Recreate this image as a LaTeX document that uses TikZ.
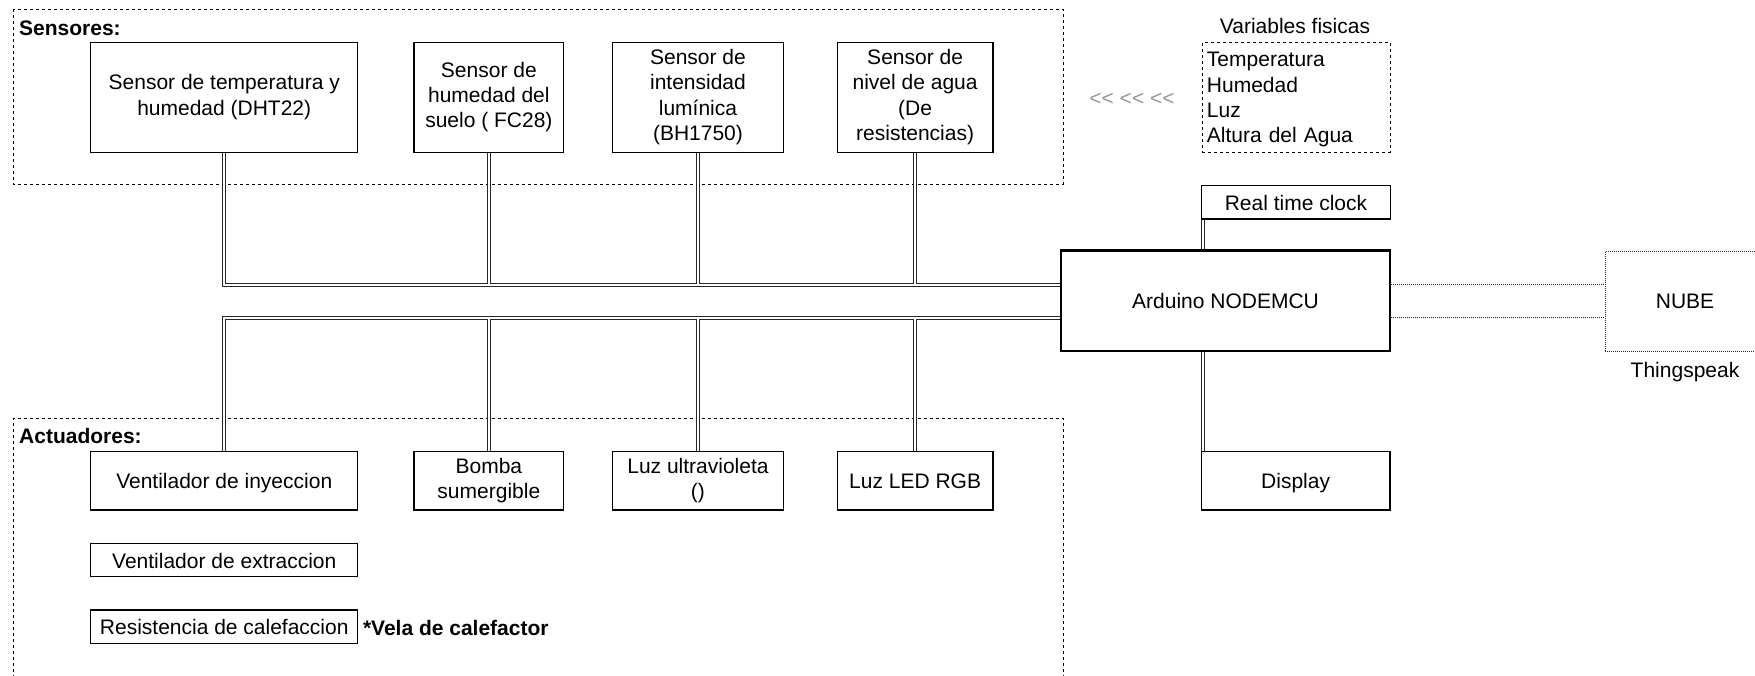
\documentclass[tikz,border=0pt]{standalone}
\usepackage{fontspec}
\setmainfont{Liberation Sans}
\usetikzlibrary{backgrounds}
\definecolor{arrgray}{RGB}{150,150,150}
\newcommand\dioStrut{\rule[-5.35pt]{0pt}{25.2pt}}
\newcommand\boxStrut{\rule[-3.8pt]{0pt}{25.2pt}}
\begin{document}
\begin{tikzpicture}[x=1pt,y=-1pt,
  every node/.style={font=\fontsize{21}{25.2}\selectfont, text=black,
    execute at begin node=\dioStrut, execute at end node=\dioStrut},
  box/.style={draw=black, line width=1.2pt, inner sep=0pt, align=center,
    execute at begin node=\boxStrut, execute at end node=\boxStrut},
  mainbox/.style={draw=black, line width=2.5pt, inner sep=0pt, align=center},
  groupline/.style={draw=black, line width=1pt, dash pattern=on 3pt off 3pt},
  fineline/.style={draw=black!85, line width=1pt, dash pattern=on 1pt off 1pt},
  busouter/.style={draw=black!85, line width=4.2pt},
  businner/.style={draw=white, line width=2pt},
  lbl/.style={inner sep=0pt, anchor=west},
  plain/.style={inner sep=0pt},
]
\useasboundingbox (0,0) rectangle (1755,675);

% sensors
\node[box, minimum width=267.1pt, minimum height=109.6pt] (s1) at (224.25,97.5) {Sensor de temperatura y\\humedad (DHT22)};
\node[box, minimum width=149.7pt, minimum height=109.6pt] (s2) at (488.85,97.5) {Sensor de\\humedad del\\suelo ( FC28)};
\node[box, minimum width=171.5pt, minimum height=109.6pt] (s3) at (697.95,97.5) {Sensor de\\intensidad\\lumínica\\(BH1750)};
\node[box, minimum width=155.8pt, minimum height=109.6pt] (s4) at (915.1,97.5) {Sensor de\\nivel de agua\\(De\\resistencias)};

% actuators
\node[box, minimum width=267.1pt, minimum height=58.3pt] (a1) at (224.25,480.85) {Ventilador de inyeccion};
\node[box, minimum width=149.7pt, minimum height=58.3pt] (a2) at (488.85,480.85) {Bomba\\sumergible};
\node[box, minimum width=171.5pt, minimum height=58.3pt] (a3) at (697.95,480.85) {Luz ultravioleta\\()};
\node[box, minimum width=155.8pt, minimum height=58.3pt] (a4) at (915.1,480.85) {Luz LED RGB};
\node[box, minimum width=267.1pt, minimum height=33.4pt] (a5) at (224.25,560) {Ventilador de extraccion};
\node[box, minimum width=267.1pt, minimum height=33.3pt] (a6) at (224.25,626.65) {Resistencia de calefaccion};
\node[lbl, font=\fontsize{21}{25.2}\selectfont\bfseries] (vela) at (362.8,628.3) {*Vela de calefactor};

% group labels
\node[lbl, font=\fontsize{21}{25.2}\selectfont\bfseries] (sens) at (19,28.3) {Sensores:};
\node[lbl, font=\fontsize{21}{25.2}\selectfont\bfseries] (act) at (19,436.7) {Actuadores:};

% controller and peripherals
\node[mainbox, minimum width=329pt, minimum height=100.3pt] (ard) at (1225.5,300.85) {Arduino NODEMCU};
\node[box, minimum width=188.9pt, minimum height=33.3pt] (rtc) at (1295.95,202.35) {Real time clock};
\node[box, minimum width=188.7pt, minimum height=58.3pt] (disp) at (1295.65,480.85) {Display};

% physical variables
\node[plain] (vtitle) at (1295,26.7) {Variables fisicas};
\node[groupline, line width=0.9pt, text width=178pt, align=left, inner xsep=5pt, inner ysep=0pt, minimum height=109.6pt] (vars) at (1295.95,97.5) {Temperatura\\Humedad\\Luz\\Altura del Agua};
\node[plain, text=arrgray] (arr) at (1132,98) {<{}< <{}< <{}<};

% cloud
\node[fineline, minimum width=160pt, minimum height=100pt, inner sep=0pt] (nube) at (1685,301.7) {NUBE};
\node[plain] (thing) at (1685,370) {Thingspeak};

\begin{pgfonlayer}{background}
  \draw[groupline] (13.4,9.3) rectangle (1063,184.3);
  \draw[groupline] (13.4,690) -- (13.4,418.3) -- (1063,418.3) -- (1063,690);
  \foreach \p in {busouter,businner}{
    \draw[\p] (s1.south) |- ([yshift=16pt]ard.west);
    \draw[\p] (s2.south) |- ([yshift=16pt]ard.west);
    \draw[\p] (s3.south) |- ([yshift=16pt]ard.west);
    \draw[\p] (s4.south) |- ([yshift=16pt]ard.west);
    \draw[\p] ([yshift=-17pt]ard.west) -| (a1.north);
    \draw[\p] ([yshift=-17pt]ard.west) -| (a2.north);
    \draw[\p] ([yshift=-17pt]ard.west) -| (a3.north);
    \draw[\p] ([yshift=-17pt]ard.west) -| (a4.north);
    \draw[\p] ([xshift=2pt]rtc.south west) -- ([xshift=2pt]rtc.south west |- ard.north);
    \draw[\p] ([xshift=2pt]disp.north west) -- ([xshift=2pt]disp.north west |- ard.south);
  }
  \draw[fineline] ([yshift=16pt]ard.east) -- ([yshift=16pt]ard.east -| nube.west);
  \draw[fineline] ([yshift=-17pt]ard.east) -- ([yshift=-17pt]ard.east -| nube.west);
\end{pgfonlayer}
\end{tikzpicture}
\end{document}
